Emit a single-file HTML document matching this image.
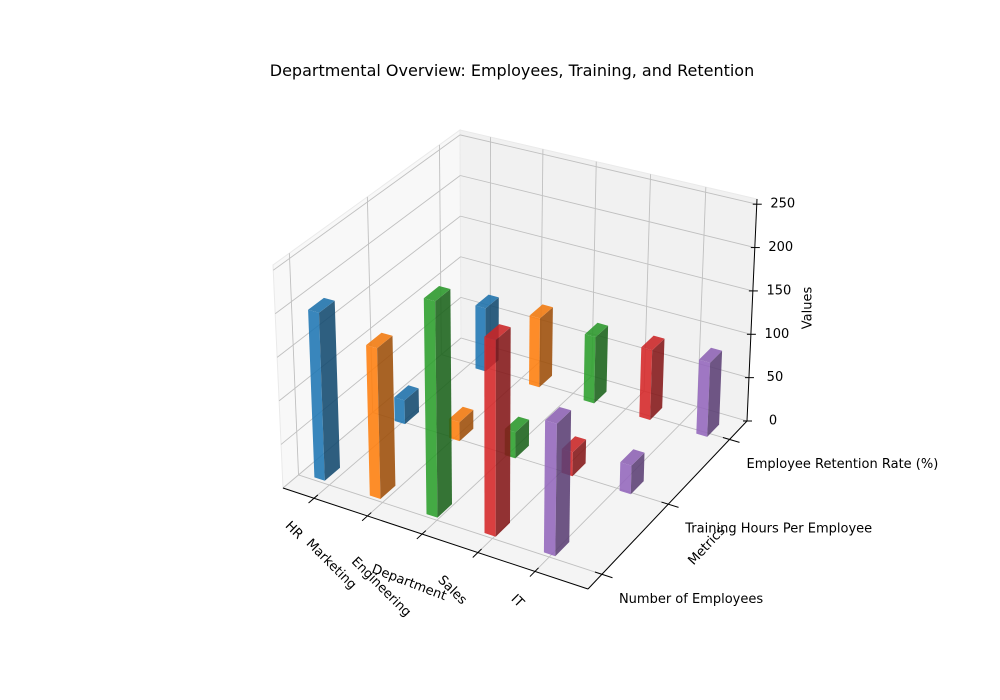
<!DOCTYPE html>
<html><head><meta charset="utf-8"><style>
html,body{margin:0;padding:0;background:#fff;}
svg{display:block;font-family:"DejaVu Sans","Liberation Sans",sans-serif;}
</style></head><body>
<svg id="chart" width="1000" height="700" viewBox="0 0 1000 700" xmlns="http://www.w3.org/2000/svg">
<rect x="0" y="0" width="1000" height="700" fill="#ffffff"/>
<text x="512" y="76" font-size="16" text-anchor="middle" fill="#000">Departmental Overview: Employees, Training, and Retention</text>
<g id="panes"></g>
<g id="grid"></g>
<g id="axes"></g>
<g id="bars"></g>
<g id="labels"></g>
</svg>
<script>
const departments = ["HR","Marketing","Engineering","Sales","IT"];
const metrics = ["Number of Employees","Training Hours Per Employee","Employee Retention Rate (%)"];
const employees = [193,171,242,217,144];
const trainingHours = [28,22,30,27,32];
const retentionRate = [76,82,78,81,85];
const zTicks = [0,50,100,150,200,250];
const colors = ["#1f77b4","#ff7f0e","#2ca02c","#d62728","#9467bd"];

const series = [employees, trainingHours, retentionRate];
const XMIN=-0.59, XMAX=4.91, YMIN=-0.2, YMAX=2.3, ZMAX=256;
const ROW_XBASE=[-0.23,-0.03,0.26];
const ROW_YOFF=[0.13,0.08,0.05];
const X_STRETCH=1.05;
const floorQ=[[283,488],[588,589],[747,421],[461,338]];
const topQ=[[273,265],[592,349],[757,199],[460,130]];
const NS="http://www.w3.org/2000/svg";

function homog(q){
  const [x0,y0]=q[0],[x1,y1]=q[1],[x2,y2]=q[2],[x3,y3]=q[3];
  const dx1=x1-x2,dx2=x3-x2,dx3=x0-x1+x2-x3,dy1=y1-y2,dy2=y3-y2,dy3=y0-y1+y2-y3;
  const den=dx1*dy2-dx2*dy1;
  const g=(dx3*dy2-dx2*dy3)/den,h=(dx1*dy3-dx3*dy1)/den;
  const a=x1-x0+g*x1,b=x3-x0+h*x3,c=x0,d=y1-y0+g*y1,e=y3-y0+h*y3,f=y0;
  return (u,v)=>{const w=g*u+h*v+1;return [(a*u+b*v+c)/w,(d*u+e*v+f)/w];};
}
const HF=homog(floorQ), HT=homog(topQ);
function P(x,y,z){
  const u=(x-XMIN)/(XMAX-XMIN), v=(y-YMIN)/(YMAX-YMIN), w=z/ZMAX;
  const f=HF(u,v), t=HT(u,v);
  return [f[0]+(t[0]-f[0])*w, f[1]+(t[1]-f[1])*w];
}
function pts(arr){return arr.map(p=>p[0].toFixed(1)+","+p[1].toFixed(1)).join(" ");}
function mk(tag,attrs,parent){const el=document.createElementNS(NS,tag);for(const k in attrs)el.setAttribute(k,attrs[k]);parent.appendChild(el);return el;}
function line(p,q,stroke,w,parent,name){
  const el=mk("line",{x1:p[0],y1:p[1],x2:q[0],y2:q[1],stroke:stroke,"stroke-width":w},parent);
  
  
  return el;
}
function shade(hex,f){
  const n=parseInt(hex.slice(1),16);
  const r=Math.round(((n>>16)&255)*f),g=Math.round(((n>>8)&255)*f),b=Math.round((n&255)*f);
  return "rgb("+Math.min(255,r)+","+Math.min(255,g)+","+Math.min(255,b)+")";
}

const panes=document.getElementById("panes");
const grid=document.getElementById("grid");
const axes=document.getElementById("axes");
const barsG=document.getElementById("bars");
const labels=document.getElementById("labels");

let pn=mk("polygon",{points:pts([P(XMIN,YMIN,0),P(XMAX,YMIN,0),P(XMAX,YMAX,0),P(XMIN,YMAX,0)]),fill:"#f4f4f4",stroke:"#eaeaea","stroke-width":1},panes);


pn=mk("polygon",{points:pts([P(XMIN,YMIN,0),P(XMIN,YMAX,0),P(XMIN,YMAX,ZMAX),P(XMIN,YMIN,ZMAX)]),fill:"#f8f8f8",stroke:"#eaeaea","stroke-width":1},panes);


pn=mk("polygon",{points:pts([P(XMIN,YMAX,0),P(XMAX,YMAX,0),P(XMAX,YMAX,ZMAX),P(XMIN,YMAX,ZMAX)]),fill:"#f1f1f1",stroke:"#eaeaea","stroke-width":1},panes);



const GC="#c0c0c0";
departments.forEach((d,i)=>{
  line(P(i,YMIN,0),P(i,YMAX,0),GC,0.9,grid,"floor-gridline-x");
  line(P(i,YMAX,0),P(i,YMAX,ZMAX),GC,0.9,grid,"back-gridline-x");
});
metrics.forEach((m,j)=>{
  line(P(XMIN,j,0),P(XMAX,j,0),GC,0.9,grid,"floor-gridline-y");
  line(P(XMIN,j,0),P(XMIN,j,ZMAX),GC,0.9,grid,"left-gridline-y");
});
zTicks.forEach(z=>{
  line(P(XMIN,YMIN,z),P(XMIN,YMAX,z),GC,0.9,grid,"left-gridline-z");
  line(P(XMIN,YMAX,z),P(XMAX,YMAX,z),GC,0.9,grid,"back-gridline-z");
});

line(P(XMIN,YMIN,0),P(XMAX,YMIN,0),"#000",1,axes,"x-axis-line");
line(P(XMAX,YMIN,0),P(XMAX,YMAX,0),"#000",1,axes,"y-axis-line");
line(P(XMAX,YMAX,0),P(XMAX,YMAX,ZMAX),"#000",1,axes,"z-axis-line");

departments.forEach((d,i)=>{
  const a=P(i,YMIN+0.05,0), b=P(i,YMIN-0.07,0);
  line(a,b,"#000",1,axes,"x-tick");
  const t=P(i,YMIN,0);
  const tx=mk("text",{"font-size":13,fill:"#000","text-anchor":"middle","dominant-baseline":"central"},labels);
  
  
  tx.textContent=d;
  const L=tx.getComputedTextLength()||d.length*7.5;
  const W=(L+13)*0.7071;
  const cx=t[0]-9-W/2, cy=t[1]+21+W/2;
  tx.setAttribute("x",cx);tx.setAttribute("y",cy);
  tx.setAttribute("transform","rotate(45 "+cx+" "+cy+")");
});
metrics.forEach((m,j)=>{
  const a=P(XMAX-0.12,j,0), b=P(XMAX+0.18,j,0);
  line(a,b,"#000",1,axes,"y-tick");
  const t=P(XMAX,j,0);
  const tx=mk("text",{x:t[0]+17,y:t[1]+25,"font-size":13,fill:"#000","dominant-baseline":"central"},labels);
  
  
  tx.textContent=m;
});
zTicks.forEach(z=>{
  const t=P(XMAX,YMAX,z);
  line([t[0]-4,t[1]],[t[0]+5,t[1]],"#000",1,axes,"z-tick");
  const tx=mk("text",{x:t[0]+26,y:t[1],"font-size":13,fill:"#000","text-anchor":"middle","dominant-baseline":"central"},labels);
  
  
  tx.textContent=String(z);
});
let at=mk("text",{x:409,y:583,"font-size":13,fill:"#000","text-anchor":"middle","dominant-baseline":"central",transform:"rotate(21 409 583)"},labels);


at.textContent="Department";
at=mk("text",{x:707,y:546,"font-size":13,fill:"#000","text-anchor":"middle","dominant-baseline":"central",transform:"rotate(-47 707 546)"},labels);


at.textContent="Metrics";
at=mk("text",{x:808,y:308,"font-size":13,fill:"#000","text-anchor":"middle","dominant-baseline":"central",transform:"rotate(-90 808 308)"},labels);


at.textContent="Values";

const DX=0.1, DY=0.1;
for(let j=metrics.length-1;j>=0;j--){
  for(let i=0;i<departments.length;i++){
    const h=series[j][i];
    const xc=X_STRETCH*i+ROW_XBASE[j];
    const yc=j+ROW_YOFF[j];
    const x0=xc-DX,x1=xc+DX,y0=yc-DY,y1=yc+DY;
    const g=mk("g",{opacity:0.88},barsG);
    
    
    const c=colors[i];
    const front=mk("polygon",{points:pts([P(x0,y0,0),P(x1,y0,0),P(x1,y0,h),P(x0,y0,h)]),fill:shade(c,1.0)},g);
    
    
    const side=mk("polygon",{points:pts([P(x1,y0,0),P(x1,y1,0),P(x1,y1,h),P(x1,y0,h)]),fill:shade(c,0.62)},g);
    
    
    const top=mk("polygon",{points:pts([P(x0,y0,h),P(x1,y0,h),P(x1,y1,h),P(x0,y1,h)]),fill:shade(c,0.95)},g);
    
    
  }
}
</script>
</body></html>
